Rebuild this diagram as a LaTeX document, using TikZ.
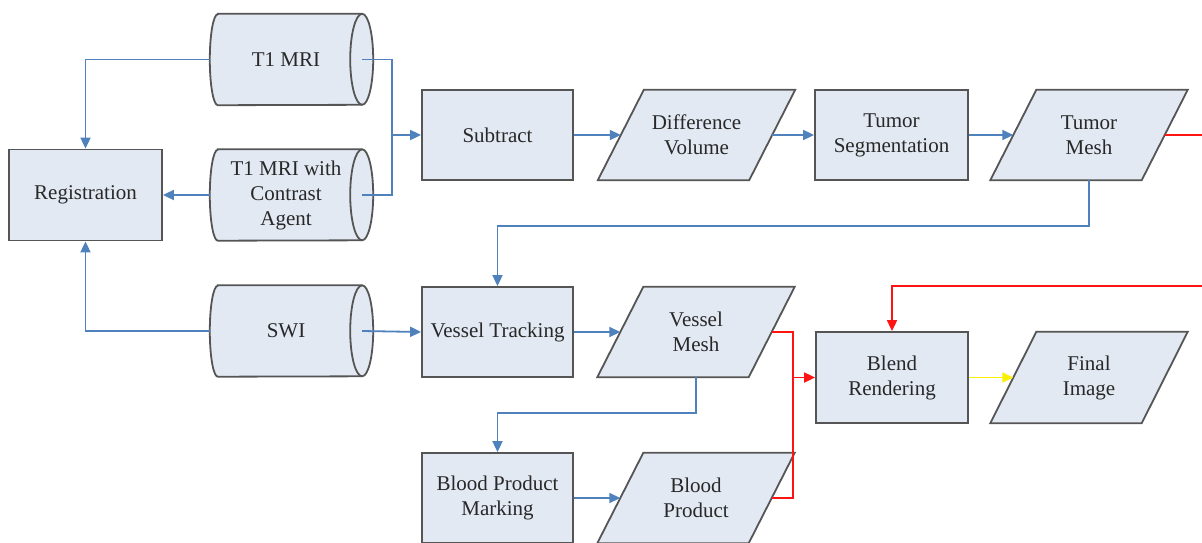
\documentclass[tikz,border=0pt]{standalone}
\usepackage{fontspec}
\setmainfont{Liberation Serif}
\usetikzlibrary{arrows.meta}
\pgfdeclarelayer{background}
\pgfsetlayers{background,main}
\definecolor{boxfill}{RGB}{226,233,243}
\definecolor{boxline}{RGB}{85,85,85}
\definecolor{txt}{RGB}{40,40,40}
\definecolor{bline}{RGB}{79,129,189}
\definecolor{rline}{RGB}{255,20,20}
\definecolor{yline}{RGB}{250,240,0}
\tikzset{
  lbl/.style={align=center,font=\rmfamily\fontsize{21}{25}\selectfont,text=txt,inner sep=0pt},
  procbox/.style={lbl,draw=boxline,fill=boxfill,line width=1.8pt,minimum width=151pt,minimum height=90pt},
  cylnode/.style={lbl,minimum width=152pt,minimum height=91pt},
  datanode/.style={lbl,minimum width=151pt,minimum height=90pt},
  shapeline/.style={draw=boxline,fill=boxfill,line width=1.8pt},
  flow/.style={draw=bline,line width=1.8pt,-{Triangle[length=11pt,width=10pt]}},
  plain/.style={draw=bline,line width=1.8pt},
  redflow/.style={draw=rline,line width=1.8pt,-{Triangle[length=11pt,width=10pt]}},
  redplain/.style={draw=rline,line width=1.8pt},
  yelflow/.style={draw=yline,line width=1.8pt,-{Triangle[length=11pt,width=10pt]}},
}
\newcommand\cylsketch[1]{%
  \path[shapeline] ([xshift=8pt]#1.north west) -- (#1.north east)
     arc[start angle=90,end angle=-90,x radius=11pt,y radius=45.5pt]
     -- ([xshift=8pt]#1.south west)
     arc[start angle=-90,end angle=-270,x radius=8pt,y radius=45.5pt] -- cycle;
  \draw[draw=boxline,line width=1.8pt] (#1.north east)
     arc[start angle=90,end angle=270,x radius=12pt,y radius=45.5pt];
}
\newcommand\parasketch[1]{%
  \path[shapeline] ([xshift=-23pt]#1.south west) -- ([xshift=23pt]#1.north west)
     -- ([xshift=23pt]#1.north east) -- ([xshift=-23pt]#1.south east) -- cycle;
}
\begin{document}
\begin{tikzpicture}[x=1pt,y=-1pt]
\useasboundingbox (0,0) rectangle (1202,542);
% process boxes
\node[procbox,minimum width=153pt,minimum height=91pt] (reg) at (85.5,195) {Registration};
\node[procbox] (sub) at (497.5,135) {Subtract};
\node[procbox,minimum width=153pt] (ts) at (891.5,135) {Tumor\\Segmentation};
\node[procbox] (vt) at (497.5,332) {Vessel Tracking};
\node[procbox,minimum width=152pt,minimum height=91pt] (br) at (892,377.5) {Blend\\Rendering};
\node[procbox] (bpm) at (497.5,498) {Blood Product\\Marking};
% cylinders
\node[cylnode] (t1) at (286,59.5) {T1 MRI};
\node[cylnode] (t1c) at (286,195) {T1 MRI with\\Contrast\\Agent};
\node[cylnode] (swi) at (286,331) {SWI};
% data (parallelograms)
\node[datanode] (dv) at (696.5,135) {Difference\\Volume};
\node[datanode] (tm) at (1089,135) {Tumor\\Mesh};
\node[datanode] (vm) at (696,332) {Vessel\\Mesh};
\node[datanode,minimum height=91pt] (fi) at (1089,377.5) {Final\\Image};
\node[datanode] (bp) at (696,498) {Blood\\Product};
\begin{pgfonlayer}{background}
\cylsketch{t1}\cylsketch{t1c}\cylsketch{swi}
\parasketch{dv}\parasketch{tm}\parasketch{vm}\parasketch{fi}\parasketch{bp}
\end{pgfonlayer}
% free ends and junctions
\coordinate (jt) at (392,135);
\coordinate (rj) at (793,377.5);
\coordinate (e1) at (1202,135);
\coordinate (e2) at (1202,286);
% blue connectors
\draw[plain] (t1.east) -| (jt);
\draw[plain] (t1c.east) -| (jt);
\draw[flow] (jt) -- (sub.west);
\draw[flow] (t1.west) -| (reg.north);
\draw[flow] (t1c.west) -- (reg.east);
\draw[flow] (swi.west) -| (reg.south);
\draw[flow] (swi.east) -- (vt.west);
\draw[flow] (sub.east) -- (dv.west);
\draw[flow] (dv.east) -- (ts.west);
\draw[flow] (ts.east) -- (tm.west);
\draw[flow] (tm.south) -- ++(0,46) -| (vt.north);
\draw[flow] (vt.east) -- (vm.west);
\draw[flow] (vm.south) -- ++(0,36) -| (bpm.north);
\draw[flow] (bpm.east) -- (bp.west);
% red connectors
\draw[redplain] (vm.east) -| (rj) |- (bp.east);
\draw[redflow] (rj) -- (br.west);
\draw[redplain] (tm.east) -- (e1);
\draw[redflow] (e2) -| (br.north);
% yellow
\draw[yelflow] (br.east) -- (fi.west);
\end{tikzpicture}
\end{document}
